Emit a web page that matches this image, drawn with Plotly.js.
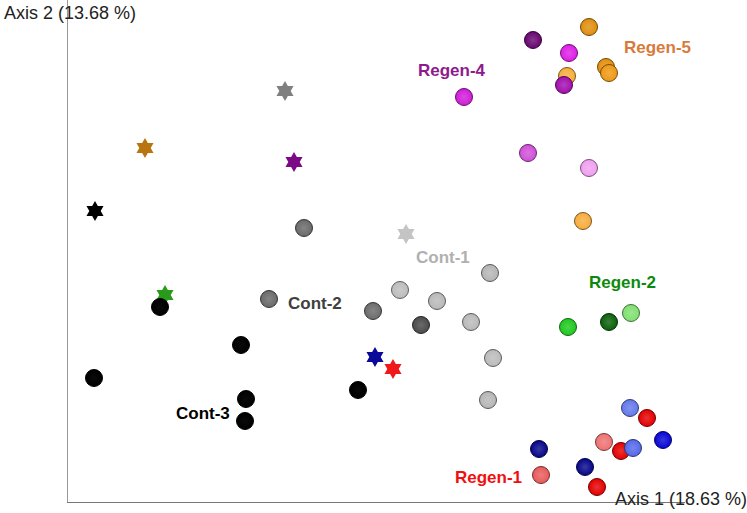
<!DOCTYPE html>
<html>
<head>
<meta charset="utf-8">
<script src="https://cdn.plot.ly/plotly-3.0.1.min.js"></script>
<style>
html,body{margin:0;padding:0;background:#fff;}
#chart{width:747px;height:513px;}
</style>
</head>
<body>
<div id="chart"></div>
<script>
// ---- Data (PCoA scores) ----
// Reference / inoculum samples (six-pointed stars)
const starX = [-0.223, -0.173, -0.033, -0.024, -0.153, 0.088, 0.057, 0.075];
const starY = [0.139, 0.202, 0.259, 0.188, 0.055, 0.116, -0.007, -0.019];
const starColors = ['#000000', '#b8740f', '#808080', '#7a0a86', '#2a9a1a', '#c4c4c4', '#0a0a9a', '#f01818'];

// Cont-3 (black)
const cont3X = [-0.158, -0.077, -0.224, 0.040, -0.072, -0.073];
const cont3Y = [0.043, 0.005, -0.028, -0.040, -0.049, -0.071];
const cont3Colors = ['#000000', '#000000', '#000000', '#000000', '#000000', '#000000'];

// Cont-2 (dark grey)
const cont2X = [-0.014, -0.049, 0.055, 0.103];
const cont2Y = [0.122, 0.051, 0.039, 0.025];
const cont2Colors = ['#6a6a6a', '#6a6a6a', '#6c6c6c', '#4a4a4a'];

// Cont-1 (light grey)
const cont1X = [0.082, 0.119, 0.153, 0.172, 0.175, 0.170];
const cont1Y = [0.060, 0.049, 0.028, 0.077, -0.008, -0.050];
const cont1Colors = ['#bcbcbc', '#b8b8b8', '#b8b8b8', '#b4b4b4', '#bababa', '#b6b6b6'];

// Regen-2 (greens)
const regen2X = [0.250, 0.291, 0.313];
const regen2Y = [0.023, 0.028, 0.037];
const regen2Colors = ['#1ec81e', '#0a600a', '#80e070'];

// Regen-1 (reds)
const regen1X = [0.223, 0.286, 0.303, 0.279, 0.329];
const regen1Y = [-0.125, -0.092, -0.101, -0.137, -0.068];
const regen1Colors = ['#e85a5a', '#ee7272', '#e40000', '#e40000', '#e40000'];

// Regen-3 (blues)
const regen3X = [0.221, 0.267, 0.312, 0.315, 0.345];
const regen3Y = [-0.099, -0.117, -0.058, -0.098, -0.090];
const regen3Colors = ['#06068a', '#06068a', '#6478ea', '#5468ea', '#0606d4'];

// Regen-4 (purples / pinks)
const regen4X = [0.215, 0.251, 0.146, 0.210, 0.271, 0.246];
const regen4Y = [0.310, 0.297, 0.253, 0.197, 0.182, 0.265];
const regen4Colors = ['#680670', '#de1ee6', '#d01cd8', '#d050d8', '#f0a0f0', '#a20eae'];

// Regen-5 (oranges)
const regen5X = [0.271, 0.288, 0.291, 0.249, 0.265];
const regen5Y = [0.323, 0.283, 0.277, 0.274, 0.129];
const regen5Colors = ['#e08e0e', '#e2900e', '#ee9812', '#f6ae3c', '#f6ac3c'];

// Group labels
const labelText = ['Regen-4', 'Regen-5', 'Cont-1', 'Regen-2', 'Cont-2', 'Cont-3', 'Regen-3', 'Regen-1'];
const labelX = [0.134, 0.339, 0.125, 0.304, -0.003, -0.115, 0.382, 0.170];
const labelY = [0.280, 0.303, 0.093, 0.068, 0.047, -0.063, -0.053, -0.127];
const labelColors = ['#8e1a8e', '#d87a3c', '#b0b0b0', '#0c8a0c', '#404040', '#000000', '#0a0af0', '#f01010'];

const axisTitleX = 'Axis 1 (18.63 %)';
const axisTitleY = 'Axis 2 (13.68 %)';

// ---- Styling helpers ----
function hexToRgb(h){h=h.replace('#','');return [parseInt(h.substr(0,2),16),parseInt(h.substr(2,2),16),parseInt(h.substr(4,2),16)];}
function mix(h, t, w){const c=hexToRgb(h);return 'rgb('+c.map(v=>Math.round(v+(t-v)*w)).join(',')+')';}
const light = (cols, w) => cols.map(c => mix(c, 255, w));
const dark = cols => cols.map(c => mix(c, 0, 0.5));

function sphereTrace(x, y, cols, w){
  return {
    type:'scatter', mode:'markers', x:x, y:y, cliponaxis:false, hoverinfo:'skip',
    marker:{size:17, color:cols, gradient:{type:'radial', color:light(cols, w)},
            line:{width:1, color:dark(cols)}}
  };
}

const FONT = 'Liberation Sans, Arial, Helvetica, sans-serif';

const traces = [
  {type:'scatter', mode:'markers', x:starX, y:starY, cliponaxis:false, hoverinfo:'skip',
   marker:{symbol:'hexagram', size:15, color:starColors, line:{width:0}}},
  sphereTrace(cont3X, cont3Y, cont3Colors, 0.04),
  sphereTrace(cont2X, cont2Y, cont2Colors, 0.18),
  sphereTrace(cont1X, cont1Y, cont1Colors, 0.22),
  sphereTrace(regen2X, regen2Y, regen2Colors, 0.2),
  sphereTrace(regen1X, regen1Y, regen1Colors, 0.2),
  sphereTrace(regen3X, regen3Y, regen3Colors, 0.2),
  sphereTrace(regen5X, regen5Y, regen5Colors, 0.2),
  sphereTrace(regen4X, regen4Y, regen4Colors, 0.2)
];

const annotations = labelText.map((t,i)=>({
  x:labelX[i], y:labelY[i], xref:'x', yref:'y', text:'<b>'+t+'</b>', showarrow:false,
  xanchor:'center', yanchor:'middle',
  font:{family:FONT, size:17, color:labelColors[i]}
}));
annotations.push({
  x:-0.107, y:0.974, xref:'paper', yref:'paper', text:axisTitleY, showarrow:false,
  xanchor:'left', yanchor:'middle', font:{family:FONT, size:18, color:'#222'}
});
annotations.push({
  x:0.883, y:0.006, xref:'paper', yref:'paper', text:axisTitleX, showarrow:false,
  xanchor:'left', yanchor:'middle', font:{family:FONT, size:18, color:'#222'}
});

const layout = {
  width:747, height:513,
  margin:{l:68, r:62, t:0, b:11},
  paper_bgcolor:'#ffffff', plot_bgcolor:'#ffffff',
  showlegend:false,
  xaxis:{range:[-0.25, 0.367], showgrid:false, zeroline:false, showticklabels:false, ticks:'',
         showline:true, linecolor:'#777777', linewidth:1, fixedrange:true},
  yaxis:{range:[-0.152, 0.350], showgrid:false, zeroline:false, showticklabels:false, ticks:'',
         showline:true, linecolor:'#999999', linewidth:1, fixedrange:true},
  annotations:annotations
};

Plotly.newPlot('chart', traces, layout, {displayModeBar:false, staticPlot:true});
</script>
</body>
</html>
